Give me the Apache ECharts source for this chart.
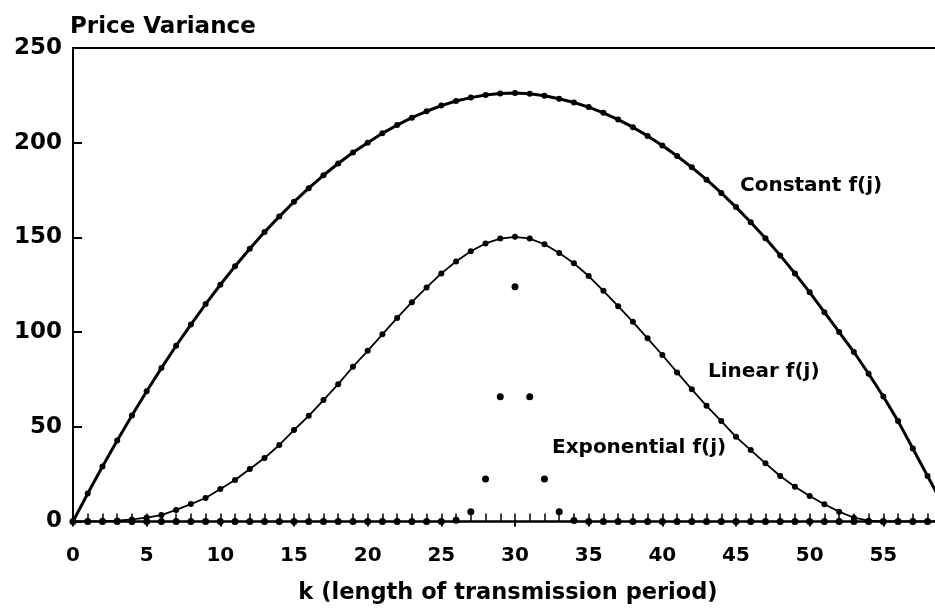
<!DOCTYPE html>
<html>
<head>
<meta charset="utf-8">
<script src="https://cdn.jsdelivr.net/npm/echarts@6/dist/echarts.min.js"></script>
<style>
html, body { margin: 0; padding: 0; background: #fff; overflow: hidden; }
/* the original figure is cut off at the right edge, just past k = 58 */
#chart { width: 957px; height: 608px; }
</style>
</head>
<body>
<div id="chart"></div>
<script>
// k = 0 .. 59
var ks = [0,1,2,3,4,5,6,7,8,9,10,11,12,13,14,15,16,17,18,19,20,21,22,23,24,25,26,27,28,29,
          30,31,32,33,34,35,36,37,38,39,40,41,42,43,44,45,46,47,48,49,50,51,52,53,54,55,56,57,58,59]

// Constant f(j)
var constantF = [0,14.8,29,42.8,56,68.8,81,92.8,104,114.8,125,134.8,144,152.8,161,168.8,176,182.8,189,194.8,
                 200,205,209.3,213.2,216.6,219.6,222,223.8,225.2,226,226.3,225.8,224.8,223.2,221.2,218.8,215.8,212.2,208.2,203.6,
                 198.5,193,187,180.5,173.5,166,158,149.5,140.5,131,121,110.5,100,89.5,78,66,53,38.5,24,9.5]

// Linear f(j)
var linearF = [0,0.05,0.2,0.5,1.1,2.1,3.4,6.1,9.2,12.4,17.2,21.9,27.7,33.5,40.4,48.3,55.8,64.1,72.5,81.7,
               90.1,98.8,107.5,115.8,123.6,131,137.3,142.7,146.8,149.4,150.3,149.4,146.4,141.8,136.3,129.6,121.8,113.7,105.4,96.7,
               87.9,78.7,69.8,61.1,53,44.7,37.7,30.7,24,18.4,13.5,9.1,5.2,2,0.4,0,0,0,0,0]

// Exponential f(j)
var expF = [0,0,0,0,0,0,0,0,0,0,0,0,0,0,0,0,0,0,0,0,
            0,0,0,0,0,0,0.6,5.2,22.4,65.9,123.9,65.9,22.4,5.2,0.5,0,0,0,0,0,
            0,0,0,0,0,0,0,0,0,0,0,0,0,0,0,0,0,0,0,0]

var yTicks = [0,50,100,150,200,250]
var xTicks = [0,5,10,15,20,25,30,35,40,45,50,55,60]

var font = '"DejaVu Sans", sans-serif'

function pairs(arr) {
    return ks.map(function (k, i) { return [k, arr[i]] })
}

var chart = echarts.init(document.getElementById('chart'))
var option = {
    backgroundColor: '#fff',
    animation: false,
    title: {
        text: 'Price Variance',
        left: 65,
        top: 11,
        textStyle: { fontFamily: font, fontWeight: 'bold', fontSize: 23, color: '#000' }
    },
    grid: { left: 73, right: 0, top: 48, bottom: 86.5, containLabel: false, outerBoundsMode: 'none' },
    xAxis: [
        {
            type: 'value',
            min: xTicks[0],
            max: xTicks[xTicks.length - 1],
            interval: 5,
            position: 'bottom',
            name: 'k (length of transmission period)',
            nameLocation: 'middle',
            nameGap: 60,
            nameTextStyle: { fontFamily: font, fontWeight: 'bold', fontSize: 22.5, color: '#000', padding: [0, 14, 0, 0] },
            axisLine: { lineStyle: { color: '#000', width: 2.5 } },
            axisTick: { inside: true, length: 8, lineStyle: { color: '#000', width: 1.5 } },
            minorTick: { show: true, splitNumber: 5, length: 8, lineStyle: { color: '#000', width: 1.5 } },
            axisLabel: { margin: 24, fontFamily: font, fontWeight: 'bold', fontSize: 20, color: '#000' },
            splitLine: { show: false }
        },
        {
            type: 'value',
            min: xTicks[0],
            max: xTicks[xTicks.length - 1],
            interval: 5,
            position: 'bottom',
            axisLine: { show: false },
            axisTick: { inside: false, length: 5, lineStyle: { color: '#000', width: 2 } },
            axisLabel: { show: false },
            splitLine: { show: false }
        },
        {
            type: 'value',
            min: xTicks[0],
            max: xTicks[xTicks.length - 1],
            position: 'top',
            axisLine: { lineStyle: { color: '#000', width: 2 } },
            axisTick: { show: false },
            axisLabel: { show: false },
            splitLine: { show: false }
        }
    ],
    yAxis: {
        type: 'value',
        min: yTicks[0],
        max: yTicks[yTicks.length - 1],
        interval: 50,
        offset: 3,
        axisLine: { show: true, lineStyle: { color: '#000', width: 2 } },
        axisTick: { show: true, inside: true, length: 9, lineStyle: { color: '#000', width: 2 } },
        axisLabel: { margin: 8, fontFamily: font, fontWeight: 'bold', fontSize: 23, color: '#000' },
        splitLine: { show: false }
    },
    series: [
        {
            name: 'Constant f(j)',
            type: 'line',
            data: pairs(constantF),
            symbol: 'circle',
            symbolSize: 6,
            itemStyle: { color: '#000' },
            lineStyle: { color: '#000', width: 3 }
        },
        {
            name: 'Linear f(j)',
            type: 'line',
            data: pairs(linearF),
            symbol: 'circle',
            symbolSize: 6,
            itemStyle: { color: '#000' },
            lineStyle: { color: '#000', width: 1.8 }
        },
        {
            name: 'Exponential f(j)',
            type: 'scatter',
            data: pairs(expF),
            symbol: 'circle',
            symbolSize: 7,
            itemStyle: { color: '#000', opacity: 1 }
        }
    ],
    graphic: [
        { type: 'text', left: 740, top: 176, style: { text: 'Constant f(j)', font: 'bold 20px ' + font, fill: '#000' } },
        { type: 'text', left: 708, top: 362, style: { text: 'Linear f(j)', font: 'bold 20px ' + font, fill: '#000' } },
        { type: 'text', left: 552, top: 438, style: { text: 'Exponential f(j)', font: 'bold 20px ' + font, fill: '#000' } }
    ]
}
chart.setOption(option)
</script>
</body>
</html>
